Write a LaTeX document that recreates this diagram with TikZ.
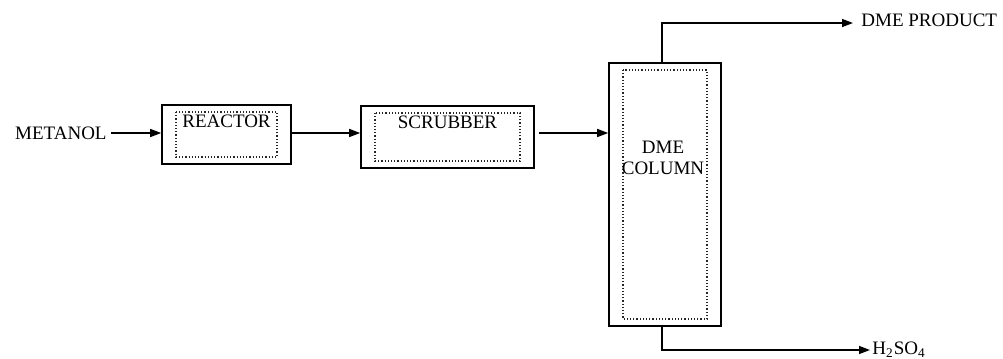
\documentclass[tikz,border=0pt]{standalone}
\usepackage{fontspec}
\setmainfont{Liberation Serif}
\usetikzlibrary{positioning,arrows.meta}

\begin{document}
\begin{tikzpicture}[
    x=0.5pt, y=-0.5pt,
    unit/.style={rectangle, draw, line width=0.8pt, inner sep=0pt,
        path picture={\draw[densely dotted, line width=0.6pt, black!85]
            ([xshift=7pt,yshift=-3.5pt]path picture bounding box.north west) rectangle
            ([xshift=-7pt,yshift=3.5pt]path picture bounding box.south east);}},
    tag/.style={inner sep=1pt, font=\fontsize{9.5}{10.5}\selectfont, align=center},
    arrow/.style={line width=0.7pt, -{Triangle[length=5.5pt,width=4pt]}}
]
    \useasboundingbox (0,0) rectangle (1003,359);

    % Units
    \node [unit, minimum width=64.5pt, minimum height=29.5pt] (reactor) at (226.5,134.5) {};
    \node [unit, minimum width=86.5pt, minimum height=31pt] (scrubber) at (447.5,137) {};
    \node [unit, minimum width=56pt, minimum height=131.5pt] (column) at (665,194.5) {};

    % Unit names
    \node [tag, below=4pt of reactor.north] (reactorlbl) {REACTOR};
    \node [tag, below=4pt of scrubber.north] (scrubberlbl) {SCRUBBER};
    \node [tag, below=38pt of column.north, xshift=-1pt] (columnlbl) {DME\\COLUMN};

    % Feed and products
    \node [tag, anchor=east, inner xsep=2pt] (metanol) at (111,133) {METANOL};
    \node [tag, anchor=west, inner xsep=4pt] (product) at (853,20) {DME PRODUCT};
    \node [tag, anchor=west] (acid) at (870,350) {H\textsubscript{2}SO\textsubscript{4}};

    % Streams
    \draw [arrow] (metanol) -- (metanol -| reactor.west);
    \draw [arrow] (reactor.east |- metanol) -- (metanol -| scrubber.west);
    \draw [arrow] ([xshift=2pt]scrubber.east |- metanol) -- (metanol -| column.west);
    \draw [arrow] ([xshift=-1.5pt]column.north) |- ([yshift=-1.5pt]product.west);
    \draw [arrow] ([xshift=-1.5pt]column.south) |- (acid.west);
\end{tikzpicture}
\end{document}
